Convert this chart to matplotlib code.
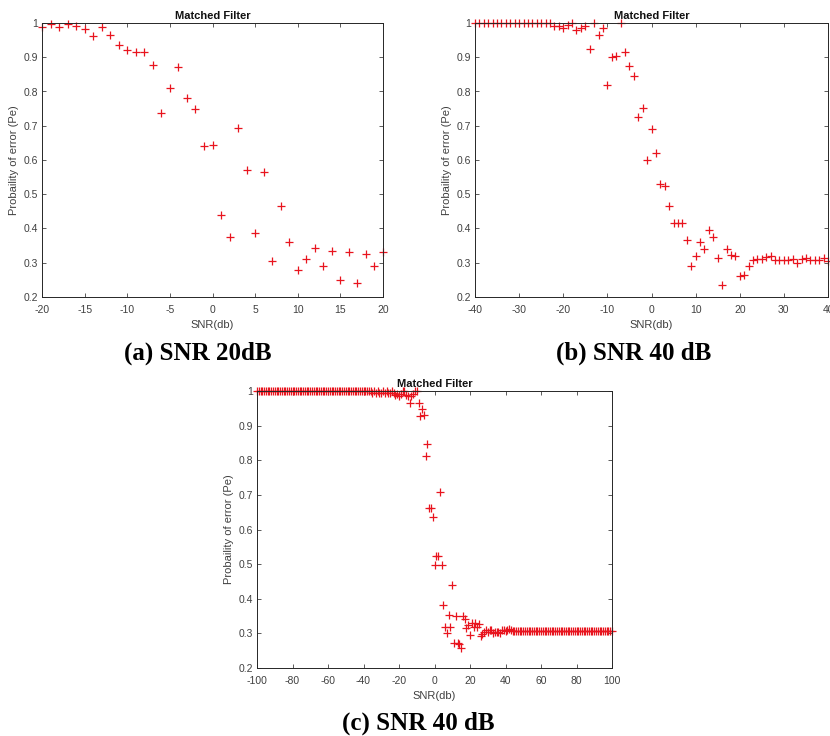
import numpy as np
import matplotlib
matplotlib.use("Agg")
import matplotlib.pyplot as plt
from matplotlib.ticker import FuncFormatter

# ---------------- data ----------------
snr_a = list(range(-20, 21))
pe_a = [0.987, 0.998, 0.987, 0.998, 0.990, 0.983, 0.961, 0.987, 0.966, 0.937,
        0.920, 0.915, 0.915, 0.877, 0.736, 0.811, 0.871, 0.782, 0.750, 0.640,
        0.645, 0.440, 0.376, 0.692, 0.571, 0.386, 0.566, 0.306, 0.465, 0.360,
        0.280, 0.311, 0.342, 0.291, 0.335, 0.250, 0.330, 0.240, 0.325, 0.290,
        0.330]

snr_b = list(range(-40, 41))
pe_b = [1.0] * 18 + [
    0.990, 0.990, 0.985, 0.995, 1.000, 0.980, 0.985, 0.990, 0.925, 1.000,
    0.965, 0.985, 0.820, 0.900, 0.905, 1.000, 0.915, 0.875, 0.845, 0.725,
    0.753, 0.600, 0.690, 0.620, 0.530, 0.525, 0.465, 0.415, 0.415, 0.415,
    0.365, 0.290, 0.320, 0.360, 0.340, 0.395, 0.375, 0.315, 0.235, 0.340,
    0.323, 0.320, 0.260, 0.265, 0.290, 0.307, 0.310, 0.310, 0.317, 0.320,
    0.307, 0.307, 0.307, 0.307, 0.310, 0.300, 0.310, 0.315, 0.307, 0.307,
    0.307, 0.315, 0.305]

snr_c = list(range(-100, 101))
pe_c = [1.0] * 65 + [
    0.995, 1.0, 0.995, 1.0, 0.995, 0.995, 1.0, 0.995, 1.0, 0.995,   # -35..-26
    0.995, 1.0, 0.995, 0.988, 0.990, 0.985, 0.990, 1.0, 1.0, 0.988, # -25..-16
    0.985, 0.966, 0.985, 0.992, 1.0, 1.0, 0.966, 0.927, 0.947, 0.930, # -15..-6
    0.811, 0.847, 0.662, 0.662, 0.637,                               # -5..-1
    0.497, 0.523, 0.523, 0.707, 0.497, 0.383, 0.319, 0.300, 0.352, 0.319, # 0..9
    0.441, 0.273, 0.349, 0.273, 0.268, 0.257, 0.349, 0.342, 0.316, 0.324, # 10..19
    0.295, 0.330, 0.317, 0.330, 0.317, 0.326, 0.293, 0.298, 0.305, 0.310, # 20..29
    0.305, 0.310, 0.310, 0.302, 0.305, 0.305, 0.305, 0.300, 0.310, 0.310, # 30..39
    0.307, 0.310, 0.312, 0.310] + [0.307] * 57                        # 40..100

title_txt = "Matched Filter"
xlab = "SNR(db)"
ylab = "Probaility of error (Pe)"
captions = ["(a) SNR 20dB", "(b) SNR 40 dB", "(c) SNR 40 dB"]

# ---------------- figure ----------------
W, H = 830, 736
plt.rcParams['font.family'] = ['Liberation Sans', 'DejaVu Sans']
plt.rcParams['axes.unicode_minus'] = False
fig = plt.figure(figsize=(W / 100, H / 100), dpi=100)

def px_axes(l, r, t, b):
    return fig.add_axes([l / W, 1 - b / H, (r - l) / W, (b - t) / H])

tick_col = '#404040'

def style(ax, x, y, xlim, xticks):
    ax.plot(x, y, '+', color='#e8141e', markersize=5.5, markeredgewidth=0.9,
            clip_on=False)
    ax.set_xlim(*xlim)
    ax.set_ylim(0.2, 1.0)
    ax.set_xticks(xticks)
    ax.set_yticks(np.arange(0.2, 1.01, 0.1))
    ax.yaxis.set_major_formatter(FuncFormatter(lambda v, p: f"{v:g}"))
    ax.tick_params(direction='in', top=True, right=True, labelsize=7.5,
                   colors=tick_col, length=3, width=0.6)
    ax.tick_params(axis='x', pad=5.5)
    ax.tick_params(axis='y', pad=3)
    for s in ax.spines.values():
        s.set_color('#262626')
        s.set_linewidth(0.7)
    ax.set_title(title_txt, fontsize=8, fontweight='bold', pad=3, color='#111111')
    ax.set_xlabel(xlab, fontsize=8, color=tick_col, labelpad=4)
    ax.set_ylabel(ylab, fontsize=8, color=tick_col, labelpad=3)

ax1 = px_axes(42, 383, 23, 297)
style(ax1, snr_a, pe_a, (-20, 20), range(-20, 21, 5))

ax2 = px_axes(475, 828, 23, 297)
style(ax2, snr_b, pe_b, (-40, 40), range(-40, 41, 10))

ax3 = px_axes(257, 612, 391, 668)
style(ax3, snr_c, pe_c, (-100, 100), range(-100, 101, 20))

cap_kw = dict(fontsize=18, fontweight='bold', family=['Liberation Serif'],
              ha='center', va='baseline', color='black')
fig.text(198 / W, 1 - 360 / H, captions[0], **cap_kw)
fig.text(634 / W, 1 - 360 / H, captions[1], **cap_kw)
fig.text(418 / W, 1 - 730 / H, captions[2], **cap_kw)

fig.savefig("out.png", dpi=100)
